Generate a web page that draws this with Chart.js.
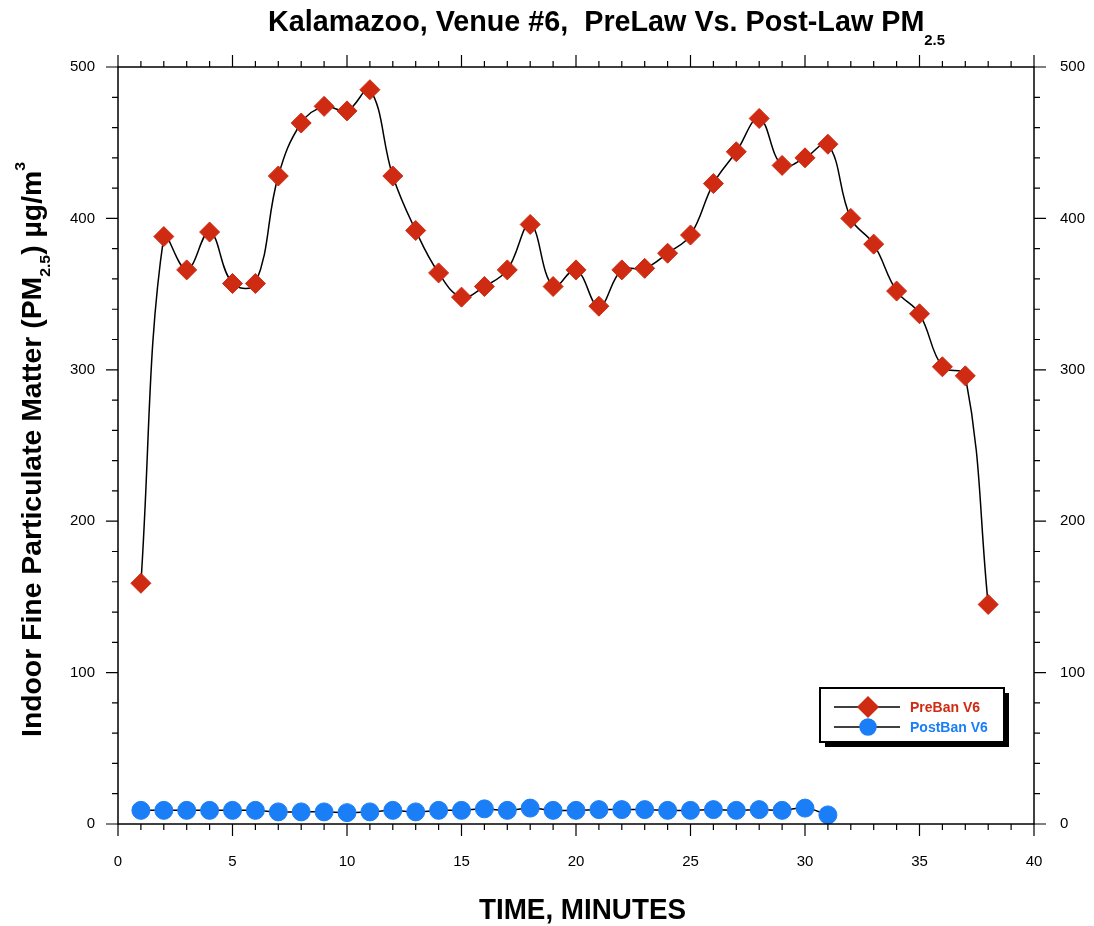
<!DOCTYPE html>
<html>
<head>
<meta charset="utf-8">
<script src="https://cdn.jsdelivr.net/npm/chart.js@4"></script>
<style>
  body { margin: 0; background: #fff; }
  #wrap { width: 1094px; height: 926px; position: relative; }
</style>
</head>
<body>
<div id="wrap"><canvas id="grafico"></canvas></div>
<script>
// minutos de medicao
const minutosPre = [1, 2, 3, 4, 5, 6, 7, 8, 9, 10, 11, 12, 13, 14, 15, 16, 17, 18, 19, 20,
  21, 22, 23, 24, 25, 26, 27, 28, 29, 30, 31, 32, 33, 34, 35, 36, 37, 38];
const minutosPost = [1, 2, 3, 4, 5, 6, 7, 8, 9, 10, 11, 12, 13, 14, 15, 16, 17, 18, 19, 20,
  21, 22, 23, 24, 25, 26, 27, 28, 29, 30, 31];

// PM2.5 em ug/m3
const preBan = [159, 388, 366, 391, 357, 357, 428, 463, 474, 471, 485, 428, 392, 364, 348, 355, 366, 396, 355, 366,
  342, 366, 367, 377, 389, 423, 444, 466, 435, 440, 449, 400, 383, 352, 337, 302, 296, 145];
const postBan = [9, 9, 9, 9, 9, 9, 8, 8, 8, 7.5, 8, 9, 8, 9, 9, 10, 9, 10.5, 9, 9,
  9.5, 9.5, 9.5, 9, 9, 9.5, 9, 9.5, 9, 10.5, 6];

const xTicks = [0, 5, 10, 15, 20, 25, 30, 35, 40];
const yTicks = [0, 100, 200, 300, 400, 500];

const VERMELHO = '#cf2a12';
const AZUL = '#1a7ef7';
const FONTE = "'Liberation Sans', Arial, Helvetica, sans-serif";

// desenha texto com sub/sobrescrito, comprimido para caber na largura
function textoRico(ctx, partes, largura) {
  let total = 0;
  partes.forEach(p => {
    ctx.font = 'bold ' + p.s + 'px ' + FONTE;
    p.w = ctx.measureText(p.t).width;
    total += p.w;
  });
  const sx = largura ? largura / total : 1;
  ctx.scale(sx, 1);
  let x = 0;
  partes.forEach(p => {
    ctx.font = 'bold ' + p.s + 'px ' + FONTE;
    ctx.fillText(p.t, x, p.dy || 0);
    x += p.w;
  });
}

const extras = {
  id: 'extras',
  afterDraw(chart) {
    const ctx = chart.ctx, a = chart.chartArea;
    const sx = chart.scales.x, sy = chart.scales.y;
    ctx.save();

    // moldura e ticks
    ctx.strokeStyle = '#000';
    ctx.lineWidth = 1.5;
    ctx.strokeRect(a.left, a.top, a.right - a.left, a.bottom - a.top);
    ctx.lineWidth = 1.2;
    ctx.beginPath();
    for (let v = 0; v <= 40; v++) {
      const px = sx.getPixelForValue(v), len = v % 5 === 0 ? 12 : 6;
      ctx.moveTo(px, a.bottom); ctx.lineTo(px, a.bottom + len);
      ctx.moveTo(px, a.top); ctx.lineTo(px, a.top - len);
    }
    for (let v = 0; v <= 500; v += 20) {
      const py = sy.getPixelForValue(v), len = v % 100 === 0 ? 12 : 6;
      ctx.moveTo(a.left, py); ctx.lineTo(a.left - len, py);
      ctx.moveTo(a.right, py); ctx.lineTo(a.right + len, py);
    }
    ctx.stroke();

    // titulo
    ctx.fillStyle = '#000';
    ctx.textBaseline = 'alphabetic';
    ctx.textAlign = 'left';
    ctx.save();
    ctx.translate(268, 31);
    textoRico(ctx, [
      { t: 'Kalamazoo, Venue #6,  PreLaw Vs. Post-Law PM', s: 29 },
      { t: '2.5', s: 15, dy: 14 }
    ], 677);
    ctx.restore();

    // eixo y
    ctx.save();
    ctx.translate(41, 737);
    ctx.rotate(-Math.PI / 2);
    textoRico(ctx, [
      { t: 'Indoor Fine Particulate Matter (PM', s: 27 },
      { t: '2.5', s: 15, dy: 9 },
      { t: ') \u00b5g/m', s: 27 },
      { t: '3', s: 15, dy: -16 }
    ], 575);
    ctx.restore();

    // eixo x
    ctx.save();
    ctx.translate(479, 919);
    textoRico(ctx, [{ t: 'TIME, MINUTES', s: 30 }], 207);
    ctx.restore();

    // legenda
    const bx = a.right - 214, by = a.bottom - 136, bw = 184, bh = 54;
    ctx.fillStyle = '#000';
    ctx.fillRect(bx + 5, by + 5, bw, bh);
    ctx.fillStyle = '#fff';
    ctx.fillRect(bx, by, bw, bh);
    ctx.lineWidth = 2;
    ctx.strokeRect(bx, by, bw, bh);
    const linhas = [
      { nome: 'PreBan V6', cor: VERMELHO, forma: 'rectRot', r: 10, y: by + 19 },
      { nome: 'PostBan V6', cor: AZUL, forma: 'circle', r: 8, y: by + 39 }
    ];
    linhas.forEach(l => {
      ctx.strokeStyle = '#000';
      ctx.lineWidth = 1.5;
      ctx.beginPath();
      ctx.moveTo(bx + 14, l.y); ctx.lineTo(bx + 80, l.y);
      ctx.stroke();
      ctx.fillStyle = l.cor;
      ctx.strokeStyle = l.cor;
      Chart.helpers.drawPoint(ctx, { pointStyle: l.forma, radius: l.r, borderWidth: 1, rotation: 0 }, bx + 48, l.y);
      ctx.font = 'bold 14px ' + FONTE;
      ctx.textBaseline = 'middle';
      ctx.fillText(l.nome, bx + 90, l.y + 1);
    });

    ctx.restore();
  }
};

const dadosPre = minutosPre.map((m, i) => ({ x: m, y: preBan[i] }));
const dadosPost = minutosPost.map((m, i) => ({ x: m, y: postBan[i] }));

const ticksFonte = { family: FONTE, size: 15 };

new Chart(document.getElementById('grafico'), {
  type: 'line',
  data: {
    datasets: [
      {
        label: 'PreBan V6',
        data: dadosPre,
        borderColor: '#000',
        borderWidth: 1.5,
        tension: 0.4,
        pointStyle: 'rectRot',
        pointRadius: 10,
        pointBackgroundColor: VERMELHO,
        pointBorderColor: VERMELHO,
        pointBorderWidth: 1
      },
      {
        label: 'PostBan V6',
        data: dadosPost,
        borderColor: '#000',
        borderWidth: 1.5,
        tension: 0.4,
        pointStyle: 'circle',
        pointRadius: 9,
        pointBackgroundColor: AZUL,
        pointBorderColor: AZUL,
        pointBorderWidth: 1
      }
    ]
  },
  options: {
    responsive: true,
    maintainAspectRatio: false,
    animation: false,
    layout: { padding: { top: 67, left: 0, right: 0, bottom: 0 } },
    plugins: { legend: { display: false }, tooltip: { enabled: false } },
    scales: {
      x: {
        type: 'linear',
        min: 0, max: 40,
        afterBuildTicks: s => { s.ticks = xTicks.map(v => ({ value: v })); },
        afterFit: s => { s.height = 926 - 824; },
        grid: { display: false, drawTicks: false },
        border: { display: false },
        ticks: { color: '#000', font: ticksFonte, padding: 29, maxRotation: 0 }
      },
      y: {
        min: 0, max: 500,
        afterBuildTicks: s => { s.ticks = yTicks.map(v => ({ value: v })); },
        afterFit: s => { s.width = 118; },
        grid: { display: false, drawTicks: false },
        border: { display: false },
        ticks: { color: '#000', font: ticksFonte, padding: 23 }
      },
      y2: {
        position: 'right',
        min: 0, max: 500,
        afterBuildTicks: s => { s.ticks = yTicks.map(v => ({ value: v })); },
        afterFit: s => { s.width = 1094 - 1034; },
        grid: { display: false, drawTicks: false },
        border: { display: false },
        ticks: { color: '#000', font: ticksFonte, padding: 26 }
      }
    }
  },
  plugins: [extras]
});
</script>
</body>
</html>
